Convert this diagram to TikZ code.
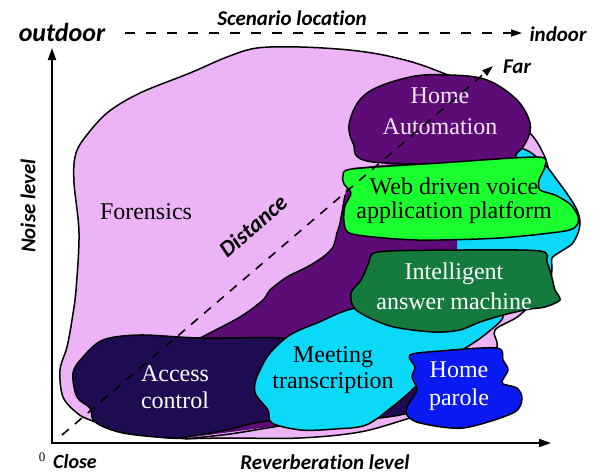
\documentclass[tikz,border=0pt]{standalone}
\usepackage{fontspec}
\setmainfont{Liberation Serif}
\newfontfamily\labelfont[Ligatures=NoCommon]{Carlito}
\usetikzlibrary{arrows.meta}

\definecolor{forensicsPink}{HTML}{ECB3F7}
\definecolor{automationPurple}{HTML}{5C0B77}
\definecolor{accessNavy}{HTML}{1E0B52}
\definecolor{meetingCyan}{HTML}{0AD9FA}
\definecolor{webGreen}{HTML}{1AFF2E}
\definecolor{answerGreen}{HTML}{147A3E}
\definecolor{paroleBlue}{HTML}{0A1AF2}
\definecolor{paleText}{HTML}{F4E8F4}

\begin{document}
\begin{tikzpicture}
[x=1pt,y=-1pt,
  blobDecorate/.style={draw=black,line width=1.5pt,line join=round},%
  textDecorate/.style={align=center,inner sep=0pt},%
  labelDecorate/.style={inner sep=0pt,font=\labelfont\bfseries\itshape\fontsize{#1}{#1}\selectfont},%
  labelDecorate/.default=21,%
  axisDecorate/.style={line width=1.8pt,{Triangle[length=12pt,width=8pt]}-{Triangle[length=12pt,width=8pt]}},%
  dashDecorate/.style={line width=1.6pt,-{Triangle[length=11pt,width=7pt]}}]
\useasboundingbox (0,0) rectangle (604,474);

%% scenario blobs, back to front
\path[blobDecorate,fill=forensicsPink] plot[smooth cycle,tension=0.55] coordinates {
  (75,157) (83,140) (107,113) (140,93) (190,73) (227,57) (257,48) (300,47)
  (349,50) (388,56) (430,68) (490,95) (530,133) (543,153) (548,167) (555,195)
  (556,225) (548,255) (540,290) (520,315) (495,330) (497,347) (485,385) (450,405)
  (410,418) (360,432) (300,438) (230,438) (170,438) (120,430) (90,420) (77,413)
  (63,397) (60,370) (67,347) (72,320) (76,290) (79,233) (74,183)};
\path[blobDecorate,fill=meetingCyan] plot[smooth cycle,tension=0.5] coordinates {
  (440,200) (470,156) (500,150) (515,147) (530,152) (547,167) (557,180) (568,195)
  (577,210) (580,222) (578,233) (572,244) (560,252) (552,258) (552,268) (551,280)
  (549,292) (540,305) (470,305) (440,280)};
\fill[automationPurple] plot[smooth,tension=0.5] coordinates {
  (185,438) (190,350) (200,338) (240,317) (263,300) (270,290) (287,277) (307,267)
  (323,257) (333,247) (337,233) (340,223) (345,195) (352,168)}
  -- (457,158) -- (457,262) -- (450,325) -- (330,390) -- (292,424) -- cycle;
\draw[blobDecorate] plot[smooth,tension=0.5] coordinates {
  (200,338) (240,317) (263,300) (270,290) (287,277) (307,267) (323,257) (333,247)
  (337,233) (340,223) (345,195)};
\draw[blobDecorate] plot[smooth,tension=0.5] coordinates {
  (185,439) (230,434) (267,428) (292,424)};
\path[blobDecorate,fill=accessNavy] plot[smooth cycle,tension=0.55] coordinates {
  (103,340) (140,335) (200,338) (283,338) (340,345) (400,368) (420,390) (415,410)
  (380,418) (330,421) (267,421) (227,430) (197,435) (173,438) (123,433) (95,422)
  (90,408) (77,397) (73,373) (83,357)};
\path[blobDecorate,fill=meetingCyan] plot[smooth cycle,tension=0.55] coordinates {
  (356,308) (317,323) (290,335) (270,353) (260,370) (255,383) (256,395) (268,410)
  (272,423) (301,430) (335,429) (366,425) (392,407) (412,390) (440,362) (467,347)
  (487,333) (503,316) (480,306) (420,304)};
\path[blobDecorate,fill=automationPurple] plot[smooth cycle,tension=0.6] coordinates {
  (350,120) (367,93) (410,77) (450,75) (487,80) (517,100) (530,123) (527,140)
  (517,153) (500,162) (373,162) (353,143)};
\path[blobDecorate,fill=webGreen] plot[smooth cycle,tension=0.45] coordinates {
  (343,176) (352,169) (440,163) (538,157) (545,166) (539,180) (540,190) (555,195)
  (570,204) (578,216) (577,225) (565,231) (500,238) (417,240) (352,234) (344,221)
  (345,206) (351,193) (344,184)};
\path[blobDecorate,fill=answerGreen] plot[smooth cycle,tension=0.5] coordinates {
  (372,254) (390,251) (460,250) (540,251) (547,262) (552,278) (555,290) (560,300)
  (545,307) (530,309) (507,314) (480,322) (460,330) (433,332) (390,326) (356,310)
  (351,293) (361,280) (369,262)};
\path[blobDecorate,fill=paroleBlue] plot[smooth cycle,tension=0.5] coordinates {
  (410,355) (440,351) (497,348) (503,360) (508,370) (502,383) (517,388) (522,399)
  (513,413) (463,428) (420,423) (407,415) (408,405) (417,390) (412,377) (415,367)};

%% scenario names
\foreach \nodename/\x/\y/\colour/\lineGap/\blobtext in {
  forensics/146/212/black/26/Forensics,
  homeAutomation/440/111/paleText/31/{Home\\Automation},
  webPlatform/454/201/black/24/{Web driven voice\\application platform},
  answerMachine/454/286/white/30/{Intelligent\\answer machine},
  meetingTranscription/333/370/black/26/{Meeting\\transcription},
  accessControl/175/387/white/27/{Access\\control},
  homeParole/459/386/white/28/{Home\\parole}}
{
  \node (\nodename) at (\x,\y) [textDecorate,text=\colour,font=\fontsize{24}{\lineGap}\selectfont] {\blobtext};
}

%% axes and directions
\coordinate (origin) at (52,443);
\coordinate (noiseTip) at (52,48);
\coordinate (reverbTip) at (551,443);
\coordinate (outdoorEnd) at (125,33);
\coordinate (indoorEnd) at (522,33);
\coordinate (closeEnd) at (62,435);
\coordinate (farEnd) at (493,66);
\draw[axisDecorate] (noiseTip) -- (origin) -- (reverbTip);
\draw[dashDecorate,dash pattern=on 10pt off 11pt] (outdoorEnd) -- (indoorEnd);
\draw[dashDecorate,dash pattern=on 9pt off 8pt] (closeEnd) -- (farEnd);

%% axis labels
\node (scenario) at (292,18) [labelDecorate] {Scenario location};
\node (outdoor) at (62,32) [labelDecorate=26] {outdoor};
\node (indoor) at (558,34) [labelDecorate] {indoor};
\node (far) at (517,67) [labelDecorate] {Far};
\node (noise) at (28,206) [labelDecorate,rotate=90] {Noise level};
\node (distance) at (253,226) [labelDecorate=23,rotate=41] {Distance};
\node (close) at (75,462) [labelDecorate=20] {Close};
\node (reverb) at (325,462) [labelDecorate] {Reverberation level};
\node (zero) at (42,457) [inner sep=0pt,font=\fontsize{13}{13}\selectfont] {0};
\end{tikzpicture}
\end{document}
